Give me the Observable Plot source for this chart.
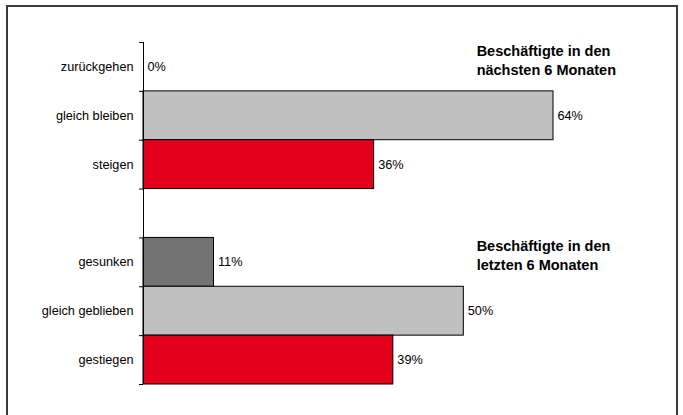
<!DOCTYPE html>
<html>
<head>
<meta charset="utf-8">
<script src="https://cdn.jsdelivr.net/npm/d3@7"></script>
<script src="https://cdn.jsdelivr.net/npm/@observablehq/plot@0.6"></script>
<style>
  html, body { margin: 0; padding: 0; background: #fff; overflow: hidden; }
  #wrap { position: relative; width: 683px; height: 415px; overflow: hidden; }
  #frame { position: absolute; left: 6px; top: 5px; width: 672px; height: 500px; box-sizing: border-box; border: 2px solid #3a3a3a; pointer-events: none; }
  #chart svg { display: block; }
</style>
</head>
<body>
<div id="wrap">
  <div id="chart"></div>
  <div id="frame"></div>
</div>
<script>
const categories = ["zurückgehen", "gleich bleiben", "steigen", "", "gesunken", "gleich geblieben", "gestiegen"];
const values = [0, 64, 36, null, 11, 50, 39];
const fills = ["#737373", "#C0C0C0", "#E2001A", null, "#737373", "#C0C0C0", "#E2001A"];
const annotationTexts = ["Beschäftigte in den\nnächsten 6 Monaten", "Beschäftigte in den\nletzten 6 Monaten"];
const annotationRows = [0, 4];

const rows = categories.map((label, i) => ({label, value: values[i], fill: fills[i], row: i}))
  .filter(d => d.value != null);
const annotations = annotationTexts.map((text, i) => ({text, row: annotationRows[i]}));
const font = "Arial, 'Liberation Sans', sans-serif";

const chart = Plot.plot({
  width: 683,
  height: 415,
  marginLeft: 143,
  marginRight: 27.5,
  marginTop: 42,
  marginBottom: 31,
  style: {fontFamily: font, fontSize: "12.7px", color: "#000", background: "#fff"},
  x: {domain: [0, 80], axis: null},
  y: {domain: [0, 7], reverse: true, axis: null},
  marks: [
    Plot.rectX(rows.filter(d => d.value > 0), {
      x1: 0, x2: "value",
      y1: "row", y2: d => d.row + 1,
      fill: "fill", stroke: "#000", strokeWidth: 1
    }),
    Plot.ruleX([0], {y1: 0, y2: 7, stroke: "#000", strokeWidth: 1}),
    Plot.axisY({ticks: d3.range(0, 8), tickSize: 4, tickFormat: () => "", stroke: "#000", label: null}),
    Plot.axisY({
      ticks: categories.map((c, i) => i + 0.5).filter((t, i) => categories[i] !== ""),
      tickSize: 0, tickPadding: 10,
      tickFormat: t => categories[Math.floor(t)],
      fontSize: 12.7, fill: "#000", label: null
    }),
    Plot.text(rows, {
      x: "value", y: d => d.row + 0.5,
      text: d => d.value + "%",
      textAnchor: "start", dx: 4, fontSize: 12.7, fill: "#000"
    }),
    Plot.text(annotations, {
      x: 52, y: "row", text: "text",
      textAnchor: "start", lineAnchor: "top",
      fontWeight: "bold", fontSize: 14.5, lineHeight: 1.3, fill: "#000"
    })
  ]
});
document.getElementById("chart").appendChild(chart);
</script>
</body>
</html>
